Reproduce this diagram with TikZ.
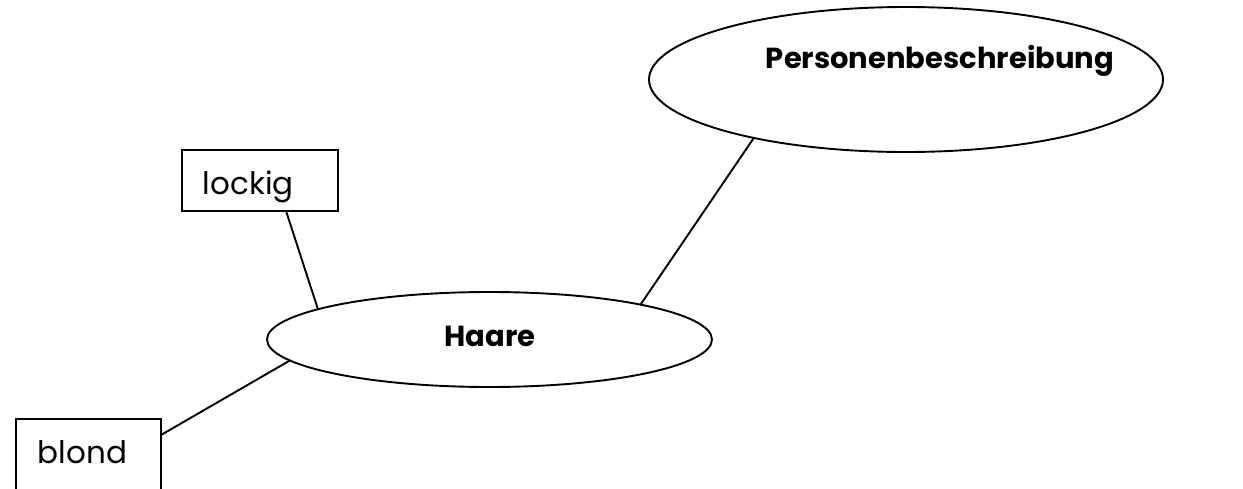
\documentclass[tikz,border=0pt]{standalone}
\usepackage{fontspec}
\setmainfont{Poppins}
\usetikzlibrary{shapes.geometric,calc}
\begin{document}
\begin{tikzpicture}[x=1pt,y=-1pt,line width=1.9pt,
  ell/.style={draw,ellipse,inner sep=0pt,outer sep=0pt},
  box/.style={draw,rectangle,inner sep=0pt,outer sep=0pt,anchor=north west},
  txt/.style={inner sep=0pt,font=\fontsize{31}{36}\selectfont},
  btxt/.style={inner sep=0pt,font=\fontsize{29}{34}\selectfont\bfseries}]
\useasboundingbox (0,0) rectangle (1243,488);
\clip (0,0) rectangle (1243,488);
% ellipses
\node[ell,minimum width=514,minimum height=145] (pb) at (906,79.5) {};
\node[btxt,anchor=base] (pbt) at (940,68) {Personenbeschreibung};
\node[ell,minimum width=445,minimum height=95] (haare) at (489.5,339.5) {};
\node[btxt,anchor=base] (haaret) at (490,346) {Haare};
% boxes
\node[box,minimum width=156,minimum height=61] (lockig) at (182,150) {};
\node[txt,anchor=base west] (lockigt) at (202,194) {lockig};
\node[box,minimum width=145,minimum height=120] (blond) at (16,419) {};
\node[txt,anchor=base west] (blondt) at (37,463) {blond};
% connectors
\draw ($(lockig.south west)!0.667!(lockig.south east)$) -- (haare.170);
\draw (haare.13.6) -- (pb.201.4);
\draw ($(blond.north east)+(0,16)$) -- (haare.186.5);
\end{tikzpicture}
\end{document}
